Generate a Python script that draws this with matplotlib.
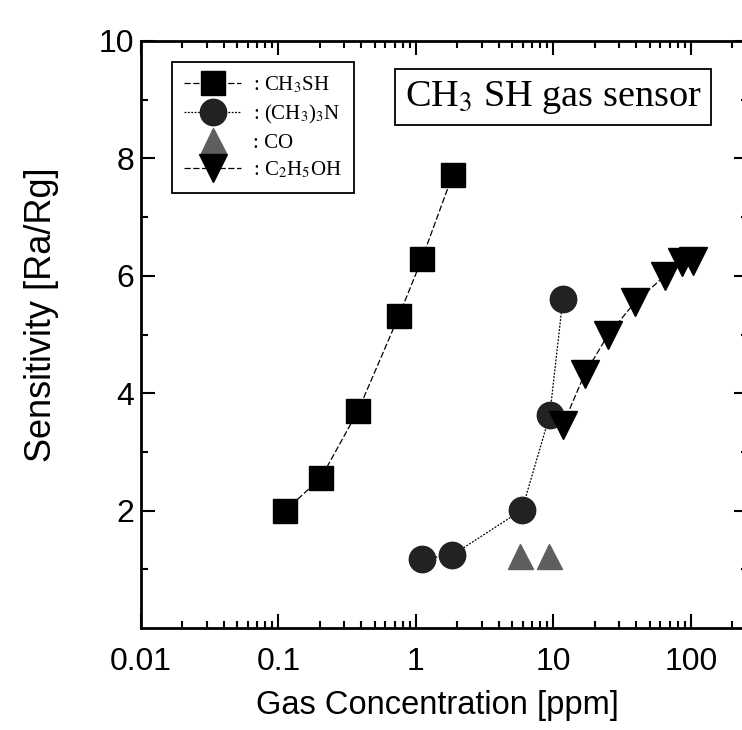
import matplotlib
matplotlib.use("Agg")
import matplotlib.pyplot as plt
from matplotlib.ticker import FixedLocator, NullFormatter, LogLocator

# data
ch3sh_x = [0.111, 0.204, 0.379, 0.752, 1.106, 1.85]
ch3sh_y = [1.99, 2.56, 3.70, 5.32, 6.29, 7.72]

tma_x = [1.106, 1.83, 5.9, 9.4, 11.7]
tma_y = [1.18, 1.24, 2.01, 3.63, 5.60]

co_x = [5.7, 9.3]
co_y = [1.22, 1.22]

etoh_x = [11.7, 16.9, 24.9, 39.2, 64.7, 86.0, 103.0]
etoh_y = [3.46, 4.33, 4.99, 5.55, 6.00, 6.23, 6.25]

plt.rcParams['font.family'] = ['Liberation Sans', 'DejaVu Sans']
plt.rcParams['mathtext.fontset'] = 'stix'

figure = plt.figure(figsize=(7.42, 7.30), dpi=100)
axes = figure.add_axes([141/742, 102/730, 607/742, 587/730])

axes.plot(ch3sh_x, ch3sh_y, color='black', lw=0.9, ls=(0, (5, 2)),
          marker='s', ms=17, mfc='black', mec='black', label=': CH$_3$SH')
axes.plot(tma_x, tma_y, color='black', lw=0.9, ls=(0, (1.5, 1.2)),
          marker='o', ms=19, mfc='#222222', mec='#222222', label=': (CH$_3$)$_3$N')
axes.plot(co_x, co_y, ls='none', marker='^', ms=18, mfc='#5e5e5e',
          mec='#5e5e5e', label=': CO')
axes.plot(etoh_x, etoh_y, color='black', lw=0.9, ls=(0, (5, 2)),
          marker='v', ms=20, mfc='black', mec='black', label=': C$_2$H$_5$OH')

axes.set_xscale('log')
axes.set_xlim(0.01, 260)
axes.set_ylim(0, 10)
axes.set_xticks([0.01, 0.1, 1, 10, 100])
axes.set_xticklabels(['0.01', '0.1', '1', '10', '100'])
axes.xaxis.set_minor_locator(LogLocator(base=10, subs=range(2, 10), numticks=20))
axes.xaxis.set_minor_formatter(NullFormatter())
axes.set_yticks([2, 4, 6, 8, 10])
axes.yaxis.set_minor_locator(FixedLocator([1, 3, 5, 7, 9]))

axes.tick_params(which='both', direction='in', top=True, right=True,
                 labelsize=23, width=1.5)
axes.tick_params(axis='x', pad=14)
axes.tick_params(axis='y', pad=5)
axes.tick_params(which='major', length=10)
axes.tick_params(which='minor', length=5)
for s in axes.spines.values():
    s.set_linewidth(2)

axes.set_xlabel('Gas Concentration [ppm]', fontsize=23.5, va='top')
axes.xaxis.set_label_coords(0.489, -0.105)
axes.set_ylabel('Sensitivity [Ra/Rg]', fontsize=26)
axes.yaxis.set_label_coords(-0.135, 0.533)

axes.text(0.679, 0.904, 'CH$_3$ SH gas sensor', transform=axes.transAxes,
          ha='center', va='center', fontsize=27.5, family='Liberation Serif',
          bbox=dict(boxstyle='square,pad=0.25', fc='white', ec='black', lw=1.3))

leg = axes.legend(loc='upper left', bbox_to_anchor=(0.051, 0.964),
                  prop={'family': 'Liberation Serif', 'size': 15},
                  markerscale=1.0, handlelength=2.7, fancybox=False,
                  edgecolor='black', framealpha=1, borderpad=0.6,
                  borderaxespad=0, labelspacing=0.35, handletextpad=0.6)
leg.get_frame().set_linewidth(1.3)

figure.savefig('out.png', dpi=100)
